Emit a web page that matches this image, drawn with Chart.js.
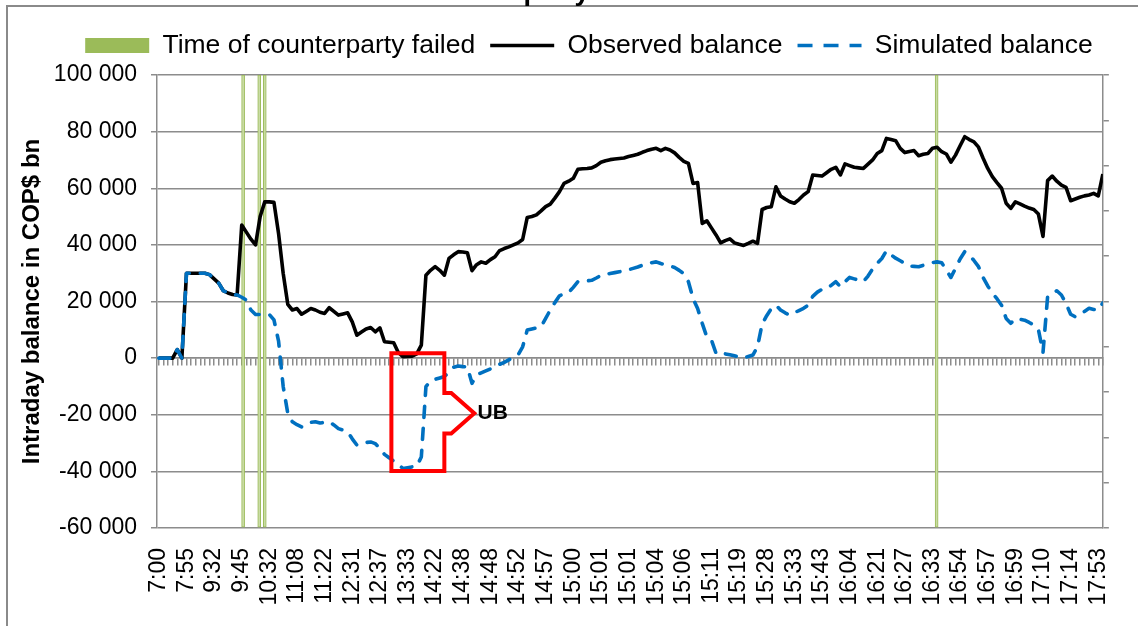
<!DOCTYPE html>
<html>
<head>
<meta charset="utf-8">
<title>Intraday balance</title>
<script src="https://cdn.jsdelivr.net/npm/chart.js@4.4.1/dist/chart.umd.min.js"></script>
<style>
  html, body { margin: 0; padding: 0; background: #fff; }
  #wrap { width: 1138px; height: 626px; position: relative; overflow: hidden; }
</style>
</head>
<body>
<div id="wrap"><canvas id="chart" width="1138" height="626"></canvas></div>
<script>
const FONT = '"Liberation Sans", Arial, Helvetica, sans-serif';
const UNIT = 1000; // series are kept in thousands of COP$ bn

// shown every 6th time stamp
const tickLabels = ['7:00', '7:55', '9:32', '9:45', '10:32', '11:08', '11:22', '12:31', '12:37', '13:33',
  '14:22', '14:38', '14:48', '14:52', '14:57', '15:00', '15:01', '15:01', '15:04', '15:06',
  '15:11', '15:19', '15:28', '15:33', '15:43', '16:04', '16:21', '16:27', '16:33', '16:54',
  '16:57', '16:59', '17:10', '17:14', '17:53'];
const labelStep = 6;

const observed = [
  0, 0, 0, 0, 3, 0, 30, 30, 30, 30,
  30, 29.5, 28, 26.5, 23.8, 23, 22.5, 22.3, 47, 44.5,
  42, 40, 50, 55.2, 55.2, 55, 44, 30, 19, 17,
  17.5, 15.5, 16.5, 17.5, 17, 16.2, 15.8, 17.8, 16.5, 15.2,
  15.6, 16, 12.8, 8.1, 9.2, 10.3, 10.8, 9.3, 10.7, 5.8,
  5.6, 5.4, 2, 0.5, 0.6, 0.7, 1.5, 4.6, 29.3, 31,
  32.3, 31, 29.3, 35.2, 36.5, 37.6, 37.5, 37.2, 30.9, 33,
  34, 33.5, 34.8, 35.8, 38, 38.7, 39.3, 40, 40.7, 41.9,
  49.7, 50, 50.6, 52, 53.5, 54.4, 56.5, 58.8, 61.7, 62.5,
  63.5, 66.7, 66.9, 67, 67.2, 68, 69.2, 69.7, 70.1, 70.3,
  70.5, 70.7, 71.2, 71.6, 72, 72.7, 73.3, 73.8, 74.1, 73.3,
  74.1, 73.5, 72.5, 70.9, 69.5, 68.8, 61.7, 62, 47.6, 48.5,
  46, 43.5, 40.7, 41.5, 42.1, 40.7, 40.2, 39.8, 40.5, 41.3,
  40.5, 52.5, 53.2, 53.5, 60.5, 57.3, 56.2, 55.2, 54.7, 56,
  57.6, 58.8, 64.7, 64.5, 64.3, 65.5, 66.7, 67.4, 64.7, 68.6,
  68, 67.4, 67.2, 67, 68.5, 70, 72.3, 73.3, 77.6, 77.2,
  76.8, 74.1, 72.6, 73, 73.3, 71.5, 72, 72.3, 74.1, 74.5,
  72.9, 72.1, 69.2, 71.7, 75, 78.2, 77.2, 76.4, 74.5, 70.6,
  67, 64.1, 62, 60, 54.7, 52.9, 55.2, 54.5, 53.7, 53,
  52.5, 50.9, 43, 62.7, 64.3, 62.5, 61.1, 60.3, 55.6, 56.2,
  56.8, 57.3, 57.6, 58.2, 57.3, 65
];

const simulated = [
  0, 0, 0, 0, 3, 0, 30, 30, 30, 30,
  30, 29.5, 28, 26.5, 23.8, 23, 22.5, 22.3, 21.5, 20.5,
  17, 15.4, 15.4, 15.4, 15.4, 13.5, 6, -10, -19.5, -22.5,
  -23.5, -24.3, -23.5, -22.7, -22.5, -22.9, -22.7, -22.5, -23.6, -24.9,
  -25.4, -26, -28.5, -30.7, -30.3, -29.8, -29.6, -30.2, -31.8, -34,
  -35.2, -36.3, -37.5, -39, -38.7, -38.4, -38.2, -34.9, -10.1, -8,
  -7.5, -7, -6.5, -5, -3.2, -2.8, -3, -3.1, -8.9, -6,
  -5.2, -4.5, -3.8, -3, -2.2, -1.5, -0.6, 0.3, 1.1, 4,
  9.9, 10.3, 10.7, 11.1, 14, 17, 19.6, 22, 22.7, 23.2,
  25, 27, 27.1, 27.3, 27.5, 28.3, 29.2, 29.6, 29.9, 30.2,
  30.5, 30.8, 31.2, 31.7, 32.2, 32.8, 33.4, 33.7, 34, 33.4,
  33, 32.6, 32, 31, 29.8, 27, 21.1, 17.5, 12.3, 7.5,
  6.4, 1.7, 1.1, 1.5, 1.2, 0.8, 0.4, 0.1, 0.6, 1.1,
  4, 12, 15, 17.5, 18.7, 17, 16, 15.2, 16, 16.8,
  17.6, 18.7, 21.8, 23.3, 24.3, 24.5, 25.7, 27, 25.2, 27,
  28.5, 28, 27.5, 27, 29, 31.5, 33.5, 35.2, 37.9, 36.5,
  35.3, 34.4, 33.5, 32.5, 32.4, 32.3, 32.8, 33.2, 33.7, 34,
  33.7, 31.1, 28.5, 31.7, 35, 37.6, 36.4, 34.5, 32.3, 28.5,
  25.5, 23, 21, 18.7, 14, 12.3, 14, 13.7, 13.4, 12.6,
  11.7, 10.1, 2, 21.7, 22.8, 23.8, 22.3, 19.3, 15.5, 14.6,
  15.5, 16.5, 17.6, 17.2, 17, 19.5
];

// position (in time steps) of the counterparty failures
const failTimes = [18.3, 21.8, 23.0, 168.9];

// red "UB" callout, time steps / thousands
const calloutX = [50.5, 62, 62, 63.5, 68.5, 63.5, 62, 62, 50.5];
const calloutY = [1.7, 1.7, -12.3, -12.3, -19.5, -26.6, -26.6, -39.9, -39.9];
const ubLabel = { x: 69.2, y: -19.5, text: 'UB' };

const chartTitle = 'Counterparty failure';

const GREEN = '#9bbb59';
const BLUE = '#0070c0';
const GRID = '#8c8c8c';

const fmtTick = v => {
  if (v === 0) return '0';
  return (v < 0 ? '-' : '') + Math.round(Math.abs(v) / 1000) + ' 000';
};

const decor = {
  id: 'decor',
  beforeDraw(chart) {
    const ctx = chart.ctx;
    ctx.save();
    ctx.strokeStyle = '#8a8a8a';
    ctx.lineWidth = 2;
    ctx.strokeRect(7, 6, 1400, 900);
    ctx.fillStyle = '#000';
    ctx.font = 'bold 27px ' + FONT;
    ctx.textAlign = 'left';
    ctx.textBaseline = 'alphabetic';
    ctx.fillText(chartTitle, 420, 0);
    ctx.restore();
  },
  afterDatasetsDraw(chart) {
    const { ctx, scales: { x, y } } = chart;
    ctx.save();
    ctx.beginPath();
    calloutX.forEach((v, i) => {
      const px = x.getPixelForValue(v);
      const py = y.getPixelForValue(calloutY[i] * UNIT);
      if (i === 0) ctx.moveTo(px, py); else ctx.lineTo(px, py);
    });
    ctx.closePath();
    ctx.strokeStyle = '#ff0000';
    ctx.lineWidth = 4;
    ctx.lineJoin = 'miter';
    ctx.stroke();
    ctx.fillStyle = '#000';
    ctx.font = 'bold 21px ' + FONT;
    ctx.textAlign = 'left';
    ctx.textBaseline = 'middle';
    ctx.fillText(ubLabel.text, x.getPixelForValue(ubLabel.x), y.getPixelForValue(ubLabel.y * UNIT));
    ctx.restore();
  }
};

const ctx = document.getElementById('chart');

new Chart(ctx, {
  type: 'line',
  data: {
    datasets: [
      {
        type: 'bar',
        label: 'Time of counterparty failed',
        data: failTimes.map(t => ({ x: t, y: 1 })),
        xAxisID: 'x',
        yAxisID: 'y2',
        backgroundColor: '#c9dba4',
        borderColor: GREEN,
        borderWidth: 1,
        borderSkipped: false,
        barThickness: 3,
        grouped: false,
        order: 3
      },
      {
        label: 'Observed balance',
        data: observed.map((v, i) => ({ x: i, y: v * UNIT })),
        borderColor: '#000',
        backgroundColor: '#000',
        borderWidth: 3.6,
        borderJoinStyle: 'round',
        pointRadius: 0,
        tension: 0,
        order: 2
      },
      {
        label: 'Simulated balance',
        data: simulated.map((v, i) => ({ x: i, y: v * UNIT })),
        borderColor: BLUE,
        backgroundColor: BLUE,
        borderWidth: 3.6,
        borderDash: [11, 11],
        borderCapStyle: 'round',
        borderJoinStyle: 'round',
        pointRadius: 0,
        tension: 0,
        order: 1
      }
    ]
  },
  options: {
    responsive: false,
    animation: false,
    events: [],
    layout: { padding: { top: 17.25, left: 40, right: 0, bottom: 0 } },
    scales: {
      x: {
        type: 'linear',
        position: 'bottom',
        offset: false,
        min: -0.4,
        max: observed.length - 1,
        grid: { display: false, offset: false },
        border: { display: false },
        ticks: {
          stepSize: labelStep,
          includeBounds: false,
          autoSkip: false,
          maxTicksLimit: 100,
          minRotation: 90,
          maxRotation: 90,
          padding: 12,
          color: '#000',
          font: { size: 23, family: FONT },
          callback: v => tickLabels[Math.round(v / labelStep)]
        },
        afterFit: s => { s.height = 98; }
      },
      xz: {
        type: 'linear',
        position: { y: 0 },
        offset: false,
        min: -0.4,
        max: observed.length - 1,
        grid: { drawOnChartArea: false, offset: false, tickLength: 7, color: GRID, lineWidth: 1.5 },
        border: { display: true, color: GRID, width: 1.5 },
        ticks: { display: false, stepSize: 1, maxTicksLimit: 1000, includeBounds: false }
      },
      y: {
        position: 'left',
        min: -60000,
        max: 100000,
        grid: { color: GRID, lineWidth: 1.5, tickLength: 6 },
        border: { display: true, color: GRID, width: 1.5 },
        ticks: {
          stepSize: 20000,
          padding: 14,
          color: '#000',
          font: { size: 23, family: FONT },
          callback: fmtTick
        },
        title: {
          display: true,
          text: 'Intraday balance in COP$ bn',
          color: '#000',
          font: { size: 24, weight: 'bold', family: FONT },
          padding: { top: -22, bottom: 0 }
        },
        afterFit: s => { s.width = 117; }
      },
      y2: {
        position: 'right',
        min: 0,
        max: 1,
        grid: { drawOnChartArea: false, tickLength: 6, color: GRID, lineWidth: 1.5 },
        border: { display: true, color: GRID, width: 1.5 },
        ticks: { display: false, stepSize: 0.1 },
        afterFit: s => { s.width = 29; }
      }
    },
    plugins: {
      tooltip: { enabled: false },
      title: { display: false },
      subtitle: { display: true, text: '', weight: 500, padding: 0, font: { size: 5, lineHeight: 1.25 } },
      legend: {
        position: 'top',
        labels: {
          usePointStyle: true,
          pointStyleWidth: 64,
          boxHeight: 15,
          padding: 15,
          color: '#000',
          font: { size: 26.5, family: FONT },
          sort: (a, b) => a.datasetIndex - b.datasetIndex,
          generateLabels(chart) {
            const items = Chart.defaults.plugins.legend.labels.generateLabels(chart);
            return items.map(it => {
              if (it.datasetIndex === 0) {
                it.pointStyle = 'rect';
                it.fillStyle = GREEN;
                it.strokeStyle = GREEN;
                it.lineWidth = 0;
              } else {
                it.pointStyle = 'line';
                if (it.datasetIndex === 2) it.lineDash = [15, 11];
              }
              return it;
            });
          }
        }
      }
    }
  },
  plugins: [decor]
});
</script>
</body>
</html>
